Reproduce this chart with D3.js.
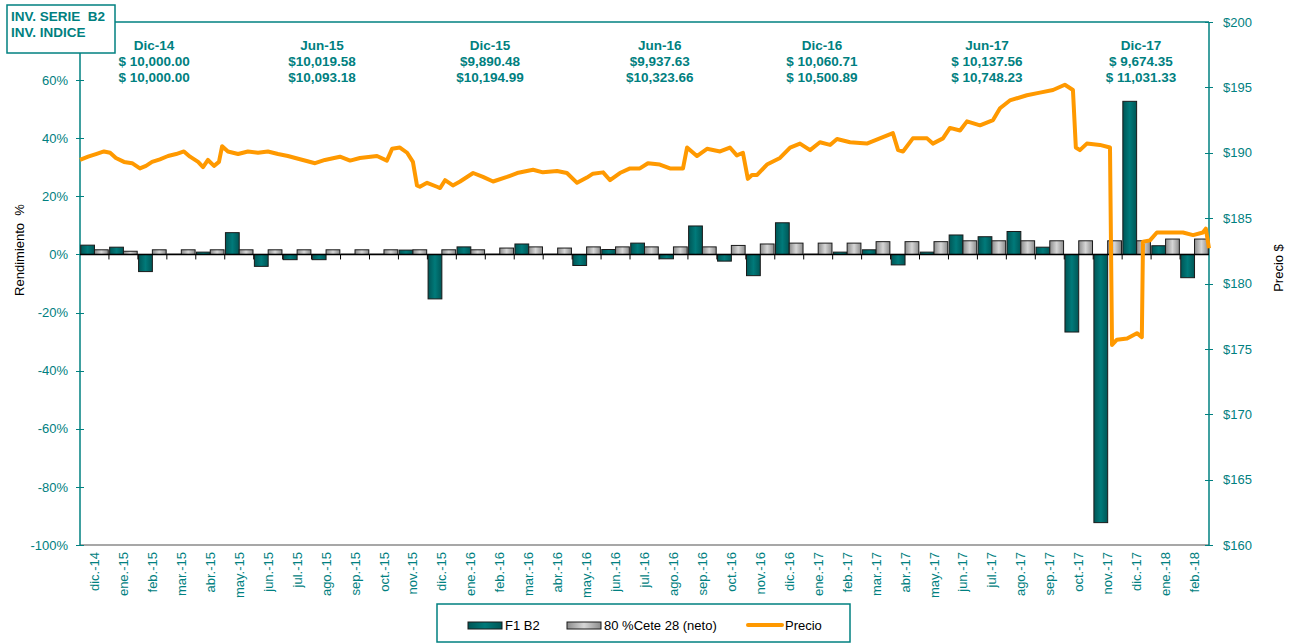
<!DOCTYPE html>
<html>
<head>
    <title>Inv. Serie B2</title>
    <meta charset="utf-8">
    <style>
        body { margin: 0; background: #fff; }
        svg { font-family: "Liberation Sans", Arial, sans-serif; }
        .axis text { fill: #008080; font-size: 13px; }
        .axis line { stroke: #008080; shape-rendering: crispEdges; }
        .axis path { display: none; }
        .nota { fill: #008080; font-size: 13.5px; font-weight: bold; text-anchor: middle; }
    </style>
    <script src="https://d3js.org/d3.v7.min.js"></script>
</head>
<body>
    <script>
        // categorias (meses)
        var meses = ["dic.-14", "ene.-15", "feb.-15", "mar.-15", "abr.-15", "may.-15", "jun.-15", "jul.-15",
            "ago.-15", "sep.-15", "oct.-15", "nov.-15", "dic.-15", "ene.-16", "feb.-16", "mar.-16", "abr.-16",
            "may.-16", "jun.-16", "jul.-16", "ago.-16", "sep.-16", "oct.-16", "nov.-16", "dic.-16", "ene.-17",
            "feb.-17", "mar.-17", "abr.-17", "may.-17", "jun.-17", "jul.-17", "ago.-17", "sep.-17", "oct.-17",
            "nov.-17", "dic.-17", "ene.-18", "feb.-18"];

        // rendimiento mensual %
        var f1b2 = [3.2, 2.5, -5.9, 0.1, 0.8, 7.5, -4.1, -1.8, -1.8, 0.1, 0.1, 1.5, -15.3, 2.6, 0.1, 3.6, 0.1,
            -3.8, 1.7, 3.9, -1.5, 9.8, -2.3, -7.3, 10.9, 0.1, 0.8, 1.6, -3.6, 0.8, 6.7, 6.1, 7.9, 2.5, -26.7,
            -92.3, 52.7, 3.0, -8.0];
        var cete = [1.6, 1.1, 1.6, 1.6, 1.6, 1.6, 1.6, 1.6, 1.6, 1.6, 1.6, 1.6, 1.6, 1.6, 2.2, 2.6, 2.2,
            2.6, 2.6, 2.6, 2.6, 2.6, 3.1, 3.6, 3.9, 3.9, 3.9, 4.4, 4.4, 4.4, 4.7, 4.7, 4.7, 4.7, 4.7,
            4.7, 4.7, 5.3, 5.3];

        // precio diario (t = meses desde inicio de dic-14)
        var precioT = [0, 0.28, 0.55, 0.83, 1.04, 1.24, 1.52, 1.80, 2.07, 2.28, 2.49, 2.76, 3.04, 3.32, 3.59,
            3.80, 4.08, 4.25, 4.42, 4.63, 4.80, 4.91, 5.11, 5.46, 5.80, 6.15, 6.49, 6.84, 7.18, 7.60, 8.12,
            8.46, 8.98, 9.33, 9.67, 10.26, 10.60, 10.78, 11.05, 11.30, 11.50, 11.64, 11.74, 11.99, 12.33,
            12.44, 12.61, 12.88, 13.13, 13.58, 13.92, 14.27, 14.75, 15.10, 15.65, 15.99, 16.48, 16.82, 17.17,
            17.51, 17.72, 18.07, 18.31, 18.65, 19.00, 19.34, 19.62, 20.03, 20.38, 20.83, 20.97, 21.31, 21.66,
            22.11, 22.45, 22.69, 22.90, 23.07, 23.21, 23.39, 23.73, 24.18, 24.53, 24.87, 25.22, 25.56, 25.91,
            26.15, 26.60, 27.18, 27.63, 28.08, 28.26, 28.43, 28.77, 29.26, 29.46, 29.81, 30.05, 30.40, 30.64,
            31.09, 31.54, 31.78, 32.12, 32.71, 33.16, 33.61, 34.02, 34.30, 34.40, 34.54, 34.78, 35.23, 35.58,
            35.65, 35.82, 36.17, 36.51, 36.68, 36.72, 36.96, 37.20, 37.65, 38.10, 38.45, 38.79, 38.89, 39.0];
        var precioV = [189.45, 189.7, 189.9, 190.1, 190.0, 189.6, 189.3, 189.2, 188.8, 189.0, 189.3, 189.5,
            189.75, 189.9, 190.1, 189.7, 189.3, 188.9, 189.45, 189.0, 189.3, 190.5, 190.1, 189.9, 190.1, 190.0,
            190.1, 189.9, 189.75, 189.5, 189.2, 189.45, 189.7, 189.4, 189.6, 189.75, 189.4, 190.3, 190.4,
            190.0, 189.3, 187.5, 187.4, 187.7, 187.4, 187.3, 187.9, 187.5, 187.8, 188.45, 188.15, 187.8,
            188.15, 188.45, 188.7, 188.5, 188.6, 188.45, 187.7, 188.1, 188.4, 188.5, 187.9, 188.45, 188.8,
            188.8, 189.2, 189.1, 188.8, 188.8, 190.4, 189.75, 190.3, 190.1, 190.4, 189.8, 190.0, 188.0, 188.3,
            188.3, 189.1, 189.6, 190.4, 190.7, 190.2, 190.8, 190.6, 191.05, 190.8, 190.7, 191.1, 191.5, 190.2,
            190.1, 191.1, 191.1, 190.7, 191.1, 191.9, 191.7, 192.4, 192.1, 192.5, 193.4, 194.0, 194.4, 194.6,
            194.8, 195.2, 194.8, 190.4, 190.2, 190.7, 190.6, 190.4, 175.3, 175.7, 175.8, 176.2, 175.9, 183.2,
            183.3, 183.9, 183.9, 183.9, 183.7, 183.9, 184.2, 182.7];

        // notas superiores
        var notaFecha = ["Dic-14", "Jun-15", "Dic-15", "Jun-16", "Dic-16", "Jun-17", "Dic-17"];
        var notaSerie = ["$ 10,000.00", "$10,019.58", "$9,890.48", "$9,937.63", "$ 10,060.71", "$ 10,137.56", "$ 9,674.35"];
        var notaIndice = ["$ 10,000.00", "$10,093.18", "$10,194.99", "$10,323.66", "$ 10,500.89", "$ 10,748.23", "$ 11,031.33"];
        var notaPos = [2.56, 8.36, 14.16, 20.03, 25.63, 31.33, 36.65];

        var teal = "#008080";
        var pLeft = 80, pRight = 1209, pTop = 22, pBottom = 545;

        var svg = d3.select("body").append("svg")
            .attr("width", 1298)
            .attr("height", 643);

        var defs = svg.append("defs");
        function gradiente(id, borde, centro) {
            var g = defs.append("linearGradient").attr("id", id)
                .attr("x1", "0%").attr("x2", "100%").attr("y1", "0%").attr("y2", "0%");
            g.append("stop").attr("offset", "0%").attr("stop-color", borde);
            g.append("stop").attr("offset", "50%").attr("stop-color", centro);
            g.append("stop").attr("offset", "100%").attr("stop-color", borde);
        }
        gradiente("gTeal", "#005656", "#007a7a");
        gradiente("gGris", "#8c8c8c", "#d6d6d6");

        var yL = d3.scaleLinear().domain([-100, 80]).range([pBottom, pTop]);
        var yR = d3.scaleLinear().domain([160, 200]).range([pBottom, pTop]);
        var x0 = d3.scaleBand().domain(meses).range([pLeft, pRight]);
        var x1 = d3.scaleBand().domain(["f1", "cete"]).range([0, x0.bandwidth()]).paddingOuter(0.05);
        var xt = d3.scaleLinear().domain([0, meses.length]).range([pLeft, pRight]);

        // marco del area
        svg.append("line").attr("x1", pLeft).attr("x2", pRight).attr("y1", pTop).attr("y2", pTop)
            .attr("stroke", teal).attr("stroke-width", 1.5);
        svg.append("line").attr("x1", pLeft).attr("x2", pRight).attr("y1", pBottom).attr("y2", pBottom)
            .attr("stroke", "#8a8a8a").attr("stroke-width", 1.5);
        svg.append("line").attr("x1", pLeft).attr("x2", pLeft).attr("y1", pTop).attr("y2", pBottom)
            .attr("stroke", teal).attr("stroke-width", 1.5);
        svg.append("line").attr("x1", pRight).attr("x2", pRight).attr("y1", pTop).attr("y2", pBottom)
            .attr("stroke", teal).attr("stroke-width", 1.5);

        // ejes (la etiqueta 80% queda tapada por la caja en el original)
        var ejeL = svg.append("g").attr("class", "axis")
            .attr("transform", "translate(" + pLeft + ",0)")
            .call(d3.axisLeft(yL).tickValues(d3.range(-100, 81, 20))
                .tickFormat(function(d) { return d === 80 ? "" : d + "%"; })
                .tickSize(4).tickSizeOuter(0).tickPadding(8));
        ejeL.selectAll(".tick line").attr("x1", 4);

        var ejeR = svg.append("g").attr("class", "axis")
            .attr("transform", "translate(" + pRight + ",0)")
            .call(d3.axisRight(yR).tickValues(d3.range(160, 201, 5)).tickFormat(function(d) { return "$" + d; })
                .tickSize(4).tickSizeOuter(0).tickPadding(10));
        ejeR.selectAll(".tick line").attr("x1", -4);

        // etiquetas de meses
        svg.append("g").selectAll("text")
            .data(meses)
            .enter().append("text")
            .attr("transform", function(d) {
                return "translate(" + (x0(d) + x0.bandwidth() / 2) + "," + (pBottom + 7) + ") rotate(-90)";
            })
            .attr("dy", "0.35em")
            .attr("text-anchor", "end")
            .attr("fill", teal)
            .style("font-size", "13px")
            .text(function(d) { return d; });

        // titulos de ejes
        svg.append("text")
            .attr("transform", "translate(24,250) rotate(-90)")
            .attr("text-anchor", "middle")
            .style("font-size", "13px")
            .style("white-space", "pre")
            .text("Rendimiento  %");
        svg.append("text")
            .attr("transform", "translate(1283,268) rotate(-90)")
            .attr("text-anchor", "middle")
            .style("font-size", "13px")
            .text("Precio $");

        // barras
        var filas = meses.map(function(m, i) { return { mes: m, f1: f1b2[i], cete: cete[i] }; });
        var grupos = svg.append("g").selectAll("g")
            .data(filas)
            .enter().append("g")
            .attr("transform", function(d) { return "translate(" + x0(d.mes) + ",0)"; });

        grupos.selectAll("rect")
            .data(function(d) { return [{ k: "f1", v: d.f1 }, { k: "cete", v: d.cete }]; })
            .enter().append("rect")
            .attr("x", function(d) { return x1(d.k); })
            .attr("width", x1.bandwidth())
            .attr("y", function(d) { return yL(Math.max(0, d.v)); })
            .attr("height", function(d) { return Math.abs(yL(d.v) - yL(0)); })
            .attr("fill", function(d) { return d.k === "f1" ? "url(#gTeal)" : "url(#gGris)"; })
            .attr("stroke", "#1a1a1a")
            .attr("stroke-width", 1);

        // linea de cero con marcas
        svg.append("line").attr("x1", pLeft).attr("x2", pRight).attr("y1", yL(0)).attr("y2", yL(0))
            .attr("stroke", "#000").attr("stroke-width", 1.5);
        svg.append("g").selectAll("line")
            .data(d3.range(1, meses.length))
            .enter().append("line")
            .attr("x1", function(d) { return xt(d); })
            .attr("x2", function(d) { return xt(d); })
            .attr("y1", yL(0))
            .attr("y2", yL(0) + 5)
            .attr("stroke", "#000");

        // precio
        var precio = precioT.map(function(t, i) { return { t: t, v: precioV[i] }; });
        var linea = d3.line()
            .x(function(d) { return xt(d.t); })
            .y(function(d) { return yR(d.v); });
        svg.append("path")
            .datum(precio)
            .attr("fill", "none")
            .attr("stroke", "#ff9900")
            .attr("stroke-width", 4)
            .attr("stroke-linejoin", "round")
            .attr("d", linea);

        // notas superiores
        var notas = svg.append("g").selectAll("g")
            .data(notaFecha)
            .enter().append("g")
            .attr("transform", function(d, i) { return "translate(" + xt(notaPos[i]) + ",0)"; });
        notas.append("text").attr("class", "nota").attr("y", 50).text(function(d) { return d; });
        notas.append("text").attr("class", "nota").attr("y", 66).text(function(d, i) { return notaSerie[i]; });
        notas.append("text").attr("class", "nota").attr("y", 82).text(function(d, i) { return notaIndice[i]; });

        // caja superior izquierda
        svg.append("rect").attr("x", 7).attr("y", 5).attr("width", 108).attr("height", 48)
            .attr("fill", "#fff").attr("stroke", teal).attr("stroke-width", 1.5);
        svg.append("text").attr("x", 11).attr("y", 21).attr("fill", teal)
            .style("font-size", "13.5px").style("font-weight", "bold").style("white-space", "pre")
            .text("INV. SERIE  B2");
        svg.append("text").attr("x", 11).attr("y", 37).attr("fill", teal)
            .style("font-size", "13.5px").style("font-weight", "bold")
            .text("INV. INDICE");

        // leyenda
        var ley = svg.append("g");
        ley.append("rect").attr("x", 437).attr("y", 604).attr("width", 413).attr("height", 38)
            .attr("fill", "#fff").attr("stroke", teal).attr("stroke-width", 1.5);
        var items = [
            { txt: "F1 B2", x: 468, tipo: "url(#gTeal)" },
            { txt: "80 %Cete 28 (neto)", x: 567, tipo: "url(#gGris)" },
            { txt: "Precio", x: 748, tipo: "linea" }
        ];
        items.forEach(function(it) {
            if (it.tipo === "linea") {
                ley.append("line").attr("x1", it.x).attr("x2", it.x + 34).attr("y1", 625).attr("y2", 625)
                    .attr("stroke", "#ff9900").attr("stroke-width", 4).attr("stroke-linecap", "round");
            } else {
                ley.append("rect").attr("x", it.x).attr("y", 622).attr("width", 34).attr("height", 7)
                    .attr("fill", it.tipo).attr("stroke", "#1a1a1a");
            }
            ley.append("text").attr("x", it.x + 37).attr("y", 630)
                .style("font-size", "13px").text(it.txt);
        });
    </script>
</body>
</html>
